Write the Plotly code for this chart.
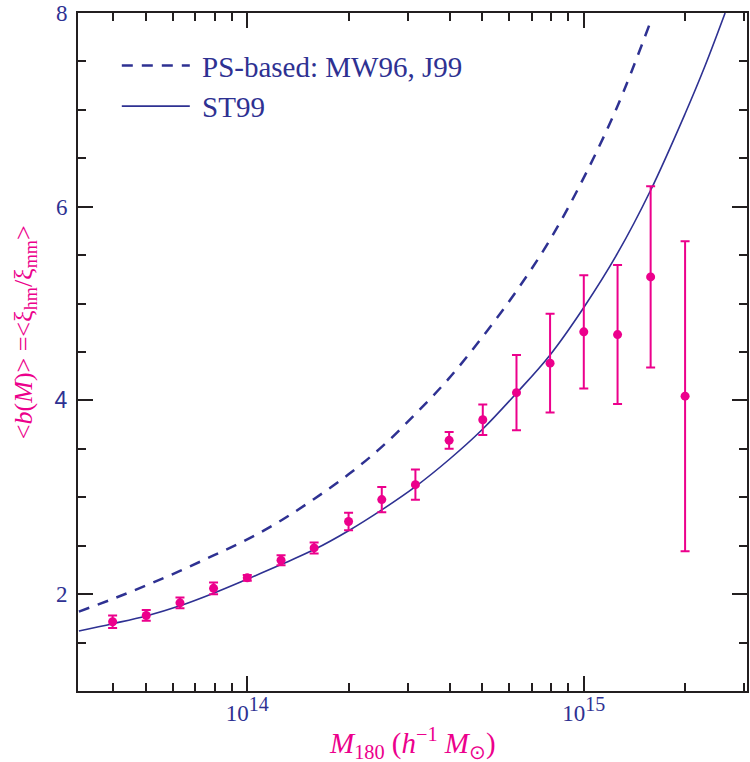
import plotly.graph_objects as go

# Measured halo bias in mass bins (h^-1 Msun) with 1-sigma errors
mass_bins = [3.98e13, 5.01e13, 6.31e13, 7.94e13, 1.00e14, 1.26e14, 1.58e14, 2.00e14,
             2.51e14, 3.16e14, 3.98e14, 5.01e14, 6.31e14, 7.94e14, 1.00e15, 1.26e15,
             1.58e15, 2.00e15]
bias = [1.715, 1.78, 1.91, 2.06, 2.168, 2.35, 2.477, 2.75, 2.976, 3.13, 3.588, 3.80,
        4.08, 4.385, 4.708, 4.68, 5.275, 4.044]
bias_err = [0.065, 0.055, 0.055, 0.06, 0.03, 0.052, 0.057, 0.09, 0.13, 0.156, 0.086,
            0.158, 0.389, 0.51, 0.584, 0.717, 0.935, 1.6]

# Model curves
st99_mass = [3.16e13, 3.98e13, 5.01e13, 6.31e13, 7.94e13, 1.00e14, 1.26e14, 1.58e14,
             2.00e14, 2.51e14, 3.16e14, 3.98e14, 5.01e14, 6.31e14, 7.94e14, 1.00e15,
             1.26e15, 1.58e15, 2.00e15, 2.29e15, 2.63e15]
st99_bias = [1.62, 1.695, 1.775, 1.88, 2.01, 2.155, 2.305, 2.46, 2.655, 2.87, 3.11,
             3.39, 3.705, 4.075, 4.47, 4.96, 5.52, 6.17, 6.96, 7.45, 8.0]

ps_mass = [3.16e13, 3.98e13, 5.01e13, 6.31e13, 7.94e13, 1.00e14, 1.26e14, 1.58e14,
           2.00e14, 2.51e14, 3.16e14, 3.98e14, 5.01e14, 6.31e14, 7.94e14, 1.00e15,
           1.26e15, 1.575e15]
ps_bias = [1.82, 1.95, 2.09, 2.24, 2.40, 2.565, 2.76, 2.983, 3.237, 3.52, 3.86, 4.23,
           4.66, 5.13, 5.66, 6.30, 7.04, 7.90]

x_major = [1e14, 1e15]
x_major_exp = ["14", "15"]
x_minor = [4e13, 5e13, 6e13, 7e13, 8e13, 9e13, 2e14, 3e14, 4e14, 5e14, 6e14, 7e14,
           8e14, 9e14, 2e15, 3e15]
y_major = [2, 4, 6, 8]
y_major_text = ["2", '<span style="font-family:Liberation Sans">4</span>', "6", "8"]
y_minor = [1.5, 2.5, 3, 3.5, 4.5, 5, 5.5, 6.5, 7, 7.5]

NAVY = "#2E3192"
PINK = "#EC008C"
SERIF = "Liberation Serif"
GAP = "\u2005"  # small space between legend sample and its label

x_major_text = ['10<sup><span style="font-size:20px">%s</span></sup>' % e for e in x_major_exp]

fig = go.Figure()

fig.add_trace(go.Scatter(
    x=ps_mass, y=ps_bias, mode="lines", name=GAP + "PS-based: MW96, J99",
    line=dict(color=NAVY, width=2.5, dash="11px,9px", shape="spline"),
))
fig.add_trace(go.Scatter(
    x=st99_mass, y=st99_bias, mode="lines", name=GAP + "ST99",
    line=dict(color=NAVY, width=1.6, shape="spline"),
))
fig.add_trace(go.Scatter(
    x=mass_bins, y=bias, mode="markers", showlegend=False,
    marker=dict(color=PINK, size=9),
    error_y=dict(type="data", array=bias_err, color=PINK, thickness=2, width=4.5),
))

axis_common = dict(
    showgrid=False, zeroline=False, showline=True, linecolor="#231F20", linewidth=2,
    mirror="allticks", ticks="inside", ticklen=15, tickwidth=1.5, tickcolor="#231F20",
    tickfont=dict(family=SERIF, size=23, color=NAVY),
)

fig.update_xaxes(
    type="log", range=[13.497, 15.485], tickmode="array",
    tickvals=x_major, ticktext=x_major_text,
    minor=dict(tickmode="array", tickvals=x_minor, ticks="inside", ticklen=8,
               tickwidth=1.5, tickcolor="#231F20"),
    **axis_common,
)
fig.update_yaxes(
    range=[1, 8], tickmode="array", tickvals=y_major, ticktext=y_major_text,
    ticklabelstandoff=4,
    minor=dict(tickmode="array", tickvals=y_minor, ticks="inside", ticklen=8,
               tickwidth=1.5, tickcolor="#231F20"),
    **axis_common,
)

fig.add_annotation(
    xref="paper", yref="paper", x=0.5, y=-0.076, xanchor="center", yanchor="middle",
    showarrow=False,
    text="<i>M</i><sub>180</sub> (<i>h</i><sup>\u22121</sup> <i>M</i><sub>\u2299</sub>)",
    font=dict(family=SERIF, size=29, color=PINK),
)
fig.add_annotation(
    xref="paper", yref="paper", x=-0.08, y=0.53, xanchor="center", yanchor="middle",
    showarrow=False, textangle=-90,
    text="&lt;<i>b</i>(<i>M</i>)&gt; =&lt;\u03be<sub>hm</sub>/\u03be<sub>mm</sub>&gt;",
    font=dict(family=SERIF, size=26, color=PINK),
)

fig.update_layout(
    width=750, height=762,
    margin=dict(l=78, r=1, t=12, b=71),
    paper_bgcolor="white", plot_bgcolor="white",
    showlegend=True,
    legend=dict(
        x=0.058, y=0.96, xanchor="left", yanchor="top",
        bgcolor="rgba(0,0,0,0)", borderwidth=0,
        font=dict(family=SERIF, size=29, color=NAVY),
        itemwidth=68, tracegroupgap=0,
    ),
)

fig.write_html("out.html")
